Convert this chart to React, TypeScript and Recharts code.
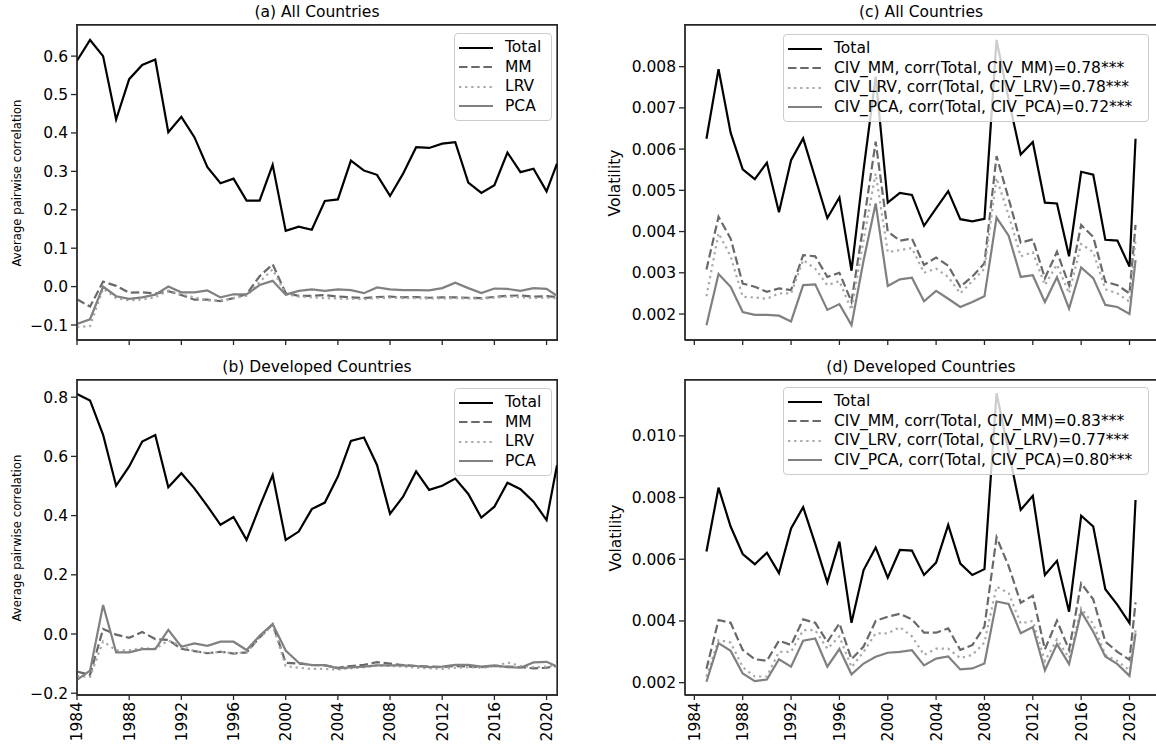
import { LineChart, Line, XAxis, YAxis, Legend, ReferenceArea } from 'recharts';

// ─── Data ────────────────────────────────────────────────────────────────────

// last entry of each year list is the partial final year
const corrYears = [
  1984, 1985, 1986, 1987, 1988, 1989, 1990, 1991, 1992, 1993,
  1994, 1995, 1996, 1997, 1998, 1999, 2000, 2001, 2002, 2003,
  2004, 2005, 2006, 2007, 2008, 2009, 2010, 2011, 2012, 2013,
  2014, 2015, 2016, 2017, 2018, 2019, 2020, 2020.8,
];
const volYears = [
  1985, 1986, 1987, 1988, 1989, 1990, 1991, 1992, 1993, 1994,
  1995, 1996, 1997, 1998, 1999, 2000, 2001, 2002, 2003, 2004,
  2005, 2006, 2007, 2008, 2009, 2010, 2011, 2012, 2013, 2014,
  2015, 2016, 2017, 2018, 2019, 2020, 2020.5,
];

// (a) average pairwise correlation, all countries
const corrAllTotal = [
  0.588, 0.642, 0.6, 0.435, 0.54, 0.577, 0.591, 0.402, 0.442, 0.389,
  0.311, 0.269, 0.281, 0.224, 0.224, 0.317, 0.145, 0.156, 0.148, 0.223,
  0.227, 0.328, 0.302, 0.291, 0.236, 0.294, 0.363, 0.361, 0.372, 0.376,
  0.271, 0.244, 0.264, 0.349, 0.298, 0.307, 0.248, 0.32,
];
const corrAllMM = [
  -0.033, -0.052, 0.013, 0.002, -0.016, -0.015, -0.018, -0.012, -0.022, -0.034,
  -0.034, -0.038, -0.03, -0.02, 0.027, 0.058, -0.017, -0.024, -0.024, -0.022,
  -0.026, -0.028, -0.03, -0.027, -0.026, -0.028, -0.027, -0.029, -0.028, -0.028,
  -0.029, -0.03, -0.027, -0.024, -0.023, -0.026, -0.025, -0.027,
];
const corrAllLRV = [
  -0.105, -0.103, -0.005, -0.03, -0.036, -0.034, -0.028, -0.01, -0.02, -0.028,
  -0.036, -0.036, -0.03, -0.024, 0.012, 0.045, -0.02, -0.026, -0.028, -0.03,
  -0.031, -0.032, -0.033, -0.03, -0.029, -0.03, -0.03, -0.031, -0.031, -0.03,
  -0.031, -0.032, -0.029, -0.026, -0.028, -0.03, -0.029, -0.03,
];
const corrAllPCA = [
  -0.097, -0.085, 0.0, -0.025, -0.032, -0.028, -0.021, 0.0, -0.015, -0.015,
  -0.01, -0.028, -0.02, -0.02, 0.004, 0.015, -0.021, -0.011, -0.007, -0.011,
  -0.007, -0.009, -0.017, -0.002, -0.007, -0.009, -0.009, -0.01, -0.004, 0.01,
  -0.004, -0.017, -0.005, -0.006, -0.011, -0.004, -0.006, -0.024,
];

// (b) average pairwise correlation, developed countries
const corrDevTotal = [
  0.811, 0.789, 0.673, 0.501, 0.566, 0.65, 0.672, 0.496, 0.543, 0.492,
  0.432, 0.369, 0.395, 0.318, 0.43, 0.537, 0.318, 0.346, 0.422, 0.444,
  0.532, 0.652, 0.664, 0.571, 0.406, 0.464, 0.549, 0.487, 0.501, 0.525,
  0.473, 0.393, 0.43, 0.511, 0.489, 0.447, 0.385, 0.57,
];
const corrDevMM = [
  -0.127, -0.138, 0.017, -0.002, -0.013, 0.007, -0.017, -0.02, -0.05, -0.058,
  -0.065, -0.06, -0.066, -0.062, -0.012, 0.033, -0.097, -0.1, -0.104, -0.106,
  -0.114, -0.108, -0.104, -0.095, -0.1, -0.105, -0.108, -0.11, -0.112, -0.108,
  -0.11, -0.112, -0.108, -0.11, -0.112, -0.116, -0.114, -0.108,
];
const corrDevLRV = [
  -0.142, -0.145, -0.025, -0.055, -0.055, -0.048, -0.05, -0.022, -0.04, -0.058,
  -0.065, -0.06, -0.065, -0.062, -0.012, 0.03, -0.108, -0.114, -0.118, -0.118,
  -0.12, -0.116, -0.112, -0.106, -0.108, -0.11, -0.114, -0.116, -0.118, -0.114,
  -0.112, -0.114, -0.11, -0.096, -0.108, -0.112, -0.11, -0.106,
];
const corrDevPCA = [
  -0.155, -0.124, 0.098, -0.062, -0.062, -0.051, -0.051, 0.014, -0.043, -0.032,
  -0.04, -0.026, -0.026, -0.054, -0.006, 0.034, -0.056, -0.097, -0.105, -0.105,
  -0.116, -0.113, -0.11, -0.106, -0.106, -0.106, -0.108, -0.112, -0.11, -0.104,
  -0.104, -0.11, -0.106, -0.112, -0.114, -0.096, -0.094, -0.11,
];

// (c) volatility, all countries
const volAllTotal = [
  0.00625, 0.00794, 0.0064, 0.00551, 0.00527, 0.00567, 0.00447, 0.00573, 0.00626, 0.0053,
  0.00433, 0.00483, 0.00305, 0.0055, 0.00776, 0.0047, 0.00494, 0.00489, 0.00414, 0.00456,
  0.00498, 0.0043, 0.00425, 0.00431, 0.00865, 0.0072, 0.00587, 0.00617, 0.0047, 0.00468,
  0.0034, 0.00545, 0.00538, 0.0038, 0.00378, 0.00315, 0.00625,
];
const volAllMM = [
  0.00308, 0.00436, 0.00383, 0.00274, 0.00266, 0.00254, 0.00262, 0.00258, 0.00343, 0.0034,
  0.0029, 0.003, 0.0023, 0.0042, 0.00618, 0.004, 0.00378, 0.00383, 0.00319, 0.00337,
  0.00317, 0.00266, 0.00291, 0.00323, 0.00583, 0.0048, 0.00373, 0.00381, 0.00287, 0.00351,
  0.0027, 0.00416, 0.00387, 0.00278, 0.0027, 0.0025, 0.00416,
];
const volAllLRV = [
  0.00243, 0.00396, 0.0034, 0.00242, 0.0024, 0.00237, 0.0025, 0.0025, 0.00331, 0.0031,
  0.0027, 0.0028, 0.0021, 0.0038, 0.00541, 0.0035, 0.00355, 0.0036, 0.003, 0.0031,
  0.0029, 0.0025, 0.0028, 0.0031, 0.0053, 0.0044, 0.0034, 0.0035, 0.0027, 0.0032,
  0.0025, 0.0037, 0.0035, 0.0026, 0.0025, 0.0023, 0.0038,
];
const volAllPCA = [
  0.00173, 0.00297, 0.00266, 0.00205, 0.00198, 0.00198, 0.00196, 0.00182, 0.0027, 0.00272,
  0.0021, 0.00224, 0.00173, 0.0033, 0.00468, 0.00268, 0.00284, 0.00288, 0.00231, 0.00256,
  0.00237, 0.00217, 0.00229, 0.00243, 0.00434, 0.0039, 0.0029, 0.00294, 0.00229, 0.00289,
  0.00213, 0.00313, 0.00287, 0.00222, 0.00217, 0.002, 0.00331,
];

// (d) volatility, developed countries
const volDevTotal = [
  0.00625, 0.00832, 0.00706, 0.00617, 0.00584, 0.00621, 0.00555, 0.007, 0.00769, 0.0065,
  0.00525, 0.00657, 0.00394, 0.00565, 0.00638, 0.0054, 0.0063, 0.00628, 0.00549, 0.00589,
  0.00711, 0.00586, 0.00549, 0.00568, 0.01138, 0.0095, 0.0076, 0.00806, 0.00549, 0.00595,
  0.0043, 0.00741, 0.00706, 0.00503, 0.00452, 0.00393, 0.00792,
];
const volDevMM = [
  0.00245, 0.00403, 0.00394, 0.00306, 0.00276, 0.00271, 0.00336, 0.00322, 0.00405, 0.00394,
  0.00332, 0.00392, 0.00276, 0.00317, 0.004, 0.00414, 0.00423, 0.00405, 0.00362, 0.00362,
  0.00376, 0.00306, 0.00322, 0.00382, 0.00671, 0.00578, 0.00459, 0.00482, 0.00308, 0.00401,
  0.00306, 0.00522, 0.0047, 0.00333, 0.003, 0.00274, 0.0046,
];
const volDevLRV = [
  0.0022, 0.00338, 0.0033, 0.0025, 0.0022, 0.0022, 0.003, 0.003, 0.0037, 0.0037,
  0.0031, 0.0035, 0.0025, 0.003, 0.0036, 0.0036, 0.0038, 0.0035, 0.0029, 0.0031,
  0.0031, 0.0028, 0.0029, 0.0033, 0.00511, 0.0049, 0.00392, 0.004, 0.0027, 0.0034,
  0.0028, 0.00441, 0.0039, 0.0029, 0.0027, 0.0024, 0.0037,
];
const volDevPCA = [
  0.00203, 0.00328, 0.00303, 0.0023, 0.00205, 0.0021, 0.00276, 0.00252, 0.00336, 0.00343,
  0.00252, 0.00309, 0.00227, 0.00262, 0.00284, 0.00297, 0.003, 0.00305, 0.00256, 0.00278,
  0.00285, 0.00243, 0.00246, 0.00262, 0.00463, 0.00455, 0.0036, 0.0038, 0.0024, 0.00325,
  0.0026, 0.0043, 0.00365, 0.00285, 0.0026, 0.00222, 0.0036,
];

// ─── Ticks & labels ──────────────────────────────────────────────────────────

const yearTicks = [1984, 1988, 1992, 1996, 2000, 2004, 2008, 2012, 2016, 2020];
const corrTicksAll = [-0.1, 0, 0.1, 0.2, 0.3, 0.4, 0.5, 0.6];
const corrTicksDev = [-0.2, 0, 0.2, 0.4, 0.6, 0.8];
const volTicksAll = [0.002, 0.003, 0.004, 0.005, 0.006, 0.007, 0.008];
const volTicksDev = [0.002, 0.004, 0.006, 0.008, 0.01];

const corrNames = ['Total', 'MM', 'LRV', 'PCA'];
const volNamesAll = [
  'Total',
  'CIV_MM, corr(Total, CIV_MM)=0.78***',
  'CIV_LRV, corr(Total, CIV_LRV)=0.78***',
  'CIV_PCA, corr(Total, CIV_PCA)=0.72***',
];
const volNamesDev = [
  'Total',
  'CIV_MM, corr(Total, CIV_MM)=0.83***',
  'CIV_LRV, corr(Total, CIV_LRV)=0.77***',
  'CIV_PCA, corr(Total, CIV_PCA)=0.80***',
];

// ─── Styling ─────────────────────────────────────────────────────────────────

const FONT = "'DejaVu Sans', sans-serif";
const FS = 15.5;
const SPINE = '#262626';
const AXIS = { stroke: SPINE, strokeWidth: 1.3 };

const SERIES = [
  { key: 'total', stroke: '#000000', dash: undefined as string | undefined },
  { key: 'mm', stroke: '#696969', dash: '8.5 3.7' },
  { key: 'lrv', stroke: '#a9a9a9', dash: '2.3 3.8' },
  { key: 'pca', stroke: '#808080', dash: undefined as string | undefined },
];

type Row = { year: number; total: number; mm: number; lrv: number; pca: number };

function toRows(years: number[], total: number[], mm: number[], lrv: number[], pca: number[]): Row[] {
  return years.map((year, i) => ({ year, total: total[i], mm: mm[i], lrv: lrv[i], pca: pca[i] }));
}

const fmtCorr = (v: number) => (v < 0 ? '\u2212' : '') + Math.abs(v).toFixed(1);
const fmtVol = (v: number) => v.toFixed(3);

// ─── Small pieces ────────────────────────────────────────────────────────────

function EmptyTick() {
  return <g />;
}

function YearTick({ x, y, payload }: { x?: number; y?: number; payload?: { value: number } }) {
  return (
    <text
      x={x}
      y={y}
      transform={`rotate(-90, ${x}, ${y})`}
      textAnchor="end"
      dy="0.35em"
      fontSize={FS}
      fontFamily={FONT}
      fill="#000"
    >
      {payload?.value}
    </text>
  );
}

function LegendBox({ names, width }: { names: string[]; width: number }) {
  return (
    <div
      style={{
        width,
        boxSizing: 'border-box',
        background: 'rgba(255,255,255,0.8)',
        border: '1px solid #cccccc',
        borderRadius: 4,
        padding: '4px 0 4px 4px',
        fontFamily: FONT,
        fontSize: FS,
        color: '#000',
      }}
    >
      {SERIES.map((s, i) => (
        <div key={s.key} style={{ display: 'flex', alignItems: 'center', height: 19.5 }}>
          <svg width={34} height={8} style={{ flex: 'none' }}>
            <line x1={0} y1={4} x2={34} y2={4} stroke={s.stroke} strokeWidth={2.2} strokeDasharray={s.dash} />
          </svg>
          <span style={{ marginLeft: 12, whiteSpace: 'nowrap', lineHeight: '19.5px' }}>{names[i]}</span>
        </div>
      ))}
    </div>
  );
}

// ─── Panel ───────────────────────────────────────────────────────────────────

interface PanelProps {
  left: number;
  top: number;
  width: number;
  height: number;
  margin: { top: number; right: number; bottom: number; left: number };
  yAxisWidth: number;
  xAxisHeight: number;
  title: string;
  titleTop: number;
  yLabel: string;
  yLabelX: number;
  narrowLabel?: boolean;
  rows: Row[];
  names: string[];
  xDomain: [number, number];
  yDomain: [number, number];
  yTicks: number[];
  yFormat: (v: number) => string;
  showYears: boolean;
  legend: { left: number; top: number; width: number };
}

function Panel(p: PanelProps) {
  const plotLeft = p.margin.left + p.yAxisWidth;
  const plotWidth = p.width - plotLeft - p.margin.right;
  const plotHeight = p.height - p.margin.top - p.margin.bottom - p.xAxisHeight;
  const plotMid = p.margin.top + plotHeight / 2;

  return (
    <div style={{ position: 'absolute', left: p.left, top: p.top, width: p.width, height: p.height }}>
      <LineChart width={p.width} height={p.height} data={p.rows} margin={p.margin}>
        <XAxis
          dataKey="year"
          type="number"
          domain={p.xDomain}
          allowDataOverflow
          ticks={yearTicks}
          interval={0}
          height={p.xAxisHeight}
          axisLine={AXIS}
          tickLine={AXIS}
          tickSize={5}
          tickMargin={2}
          tick={p.showYears ? <YearTick /> : <EmptyTick />}
        />
        <YAxis
          type="number"
          domain={p.yDomain}
          allowDataOverflow
          ticks={p.yTicks}
          interval={0}
          width={p.yAxisWidth}
          axisLine={AXIS}
          tickLine={AXIS}
          tickSize={6}
          tickMargin={3}
          tickFormatter={p.yFormat}
          tick={{ fill: '#000', fontSize: FS, fontFamily: FONT }}
        />
        {/* axes frame */}
        <ReferenceArea
          x1={p.xDomain[0]}
          x2={p.xDomain[1]}
          y1={p.yDomain[0]}
          y2={p.yDomain[1]}
          fill="none"
          fillOpacity={0}
          stroke={SPINE}
          strokeWidth={1.3}
          ifOverflow="visible"
        />
        {SERIES.map((s) => (
          <Line
            key={s.key}
            dataKey={s.key}
            type="linear"
            stroke={s.stroke}
            strokeWidth={2.2}
            strokeDasharray={s.dash}
            dot={false}
            activeDot={false}
            isAnimationActive={false}
          />
        ))}
        <Legend
          layout="horizontal"
          verticalAlign="middle"
          align="center"
          wrapperStyle={{ left: p.legend.left, top: p.legend.top, width: p.legend.width }}
          content={() => <LegendBox names={p.names} width={p.legend.width} />}
        />
      </LineChart>
      <div
        style={{
          position: 'absolute',
          left: plotLeft - 0.75,
          top: p.margin.top - 0.75,
          width: plotWidth + 1.5,
          height: plotHeight + 1.5,
          boxSizing: 'border-box',
          borderTop: `1.5px solid ${SPINE}`,
          borderRight: `1.5px solid ${SPINE}`,
          pointerEvents: 'none',
          zIndex: 5,
        }}
      />
      <div
        style={{
          position: 'absolute',
          left: plotLeft,
          width: plotWidth,
          top: p.titleTop,
          textAlign: 'center',
          fontFamily: FONT,
          fontSize: FS,
          lineHeight: '18px',
          whiteSpace: 'nowrap',
          color: '#000',
        }}
      >
        {p.title}
      </div>
      <div
        style={{
          position: 'absolute',
          left: p.yLabelX,
          top: plotMid,
          transform: 'translate(-50%, -50%) rotate(-90deg)',
          whiteSpace: 'nowrap',
          fontFamily: p.narrowLabel ? "'DejaVu Sans Condensed', 'DejaVu Sans', sans-serif" : FONT,
          fontStretch: p.narrowLabel ? 'condensed' : 'normal',
          fontSize: p.narrowLabel ? 13 : FS,
          color: '#000',
        }}
      >
        {p.yLabel}
      </div>
    </div>
  );
}

// ─── App ─────────────────────────────────────────────────────────────────────

const corrDomainX: [number, number] = [1984, 2020.8];
const volDomainX: [number, number] = [1983.225, 2022.275];

export default function App() {
  const topMargin = { top: 25, right: 13, bottom: 0, left: 0 };
  const botMargin = { top: 10, right: 13, bottom: 0, left: 0 };
  const topMarginR = { top: 25, right: 3, bottom: 0, left: 0 };
  const botMarginR = { top: 10, right: 3, bottom: 0, left: 0 };

  return (
    <div style={{ position: 'absolute', left: 0, top: 0, width: 1156, height: 751, overflow: 'hidden', background: '#fff' }}>
      <Panel
        left={0}
        top={0}
        width={570}
        height={350}
        margin={topMargin}
        yAxisWidth={77}
        xAxisHeight={10}
        title="(a) All Countries"
        titleTop={2.5}
        yLabel="Average pairwise correlation"
        yLabelX={16}
        narrowLabel
        rows={toRows(corrYears, corrAllTotal, corrAllMM, corrAllLRV, corrAllPCA)}
        names={corrNames}
        xDomain={corrDomainX}
        yDomain={[-0.139, 0.681]}
        yTicks={corrTicksAll}
        yFormat={fmtCorr}
        showYears={false}
        legend={{ left: 454, top: 33, width: 98 }}
      />
      <Panel
        left={0}
        top={370}
        width={570}
        height={381}
        margin={botMargin}
        yAxisWidth={77}
        xAxisHeight={56}
        title="(b) Developed Countries"
        titleTop={-12.5}
        yLabel="Average pairwise correlation"
        yLabelX={16}
        narrowLabel
        rows={toRows(corrYears, corrDevTotal, corrDevMM, corrDevLRV, corrDevPCA)}
        names={corrNames}
        xDomain={corrDomainX}
        yDomain={[-0.206, 0.858]}
        yTicks={corrTicksDev}
        yFormat={fmtCorr}
        showYears
        legend={{ left: 454, top: 18, width: 98 }}
      />
      <Panel
        left={590}
        top={0}
        width={570}
        height={350}
        margin={topMarginR}
        yAxisWidth={95}
        xAxisHeight={10}
        title="(c) All Countries"
        titleTop={2.5}
        yLabel="Volatility"
        yLabelX={25}
        rows={toRows(volYears, volAllTotal, volAllMM, volAllLRV, volAllPCA)}
        names={volNamesAll}
        xDomain={volDomainX}
        yDomain={[0.00137, 0.00901]}
        yTicks={volTicksAll}
        yFormat={fmtVol}
        showYears={false}
        legend={{ left: 193, top: 34, width: 366 }}
      />
      <Panel
        left={590}
        top={370}
        width={570}
        height={381}
        margin={botMarginR}
        yAxisWidth={95}
        xAxisHeight={56}
        title="(d) Developed Countries"
        titleTop={-12.5}
        yLabel="Volatility"
        yLabelX={26}
        rows={toRows(volYears, volDevTotal, volDevMM, volDevLRV, volDevPCA)}
        names={volNamesDev}
        xDomain={volDomainX}
        yDomain={[0.0016, 0.01181]}
        yTicks={volTicksDev}
        yFormat={fmtVol}
        showYears
        legend={{ left: 193, top: 17, width: 366 }}
      />
    </div>
  );
}
